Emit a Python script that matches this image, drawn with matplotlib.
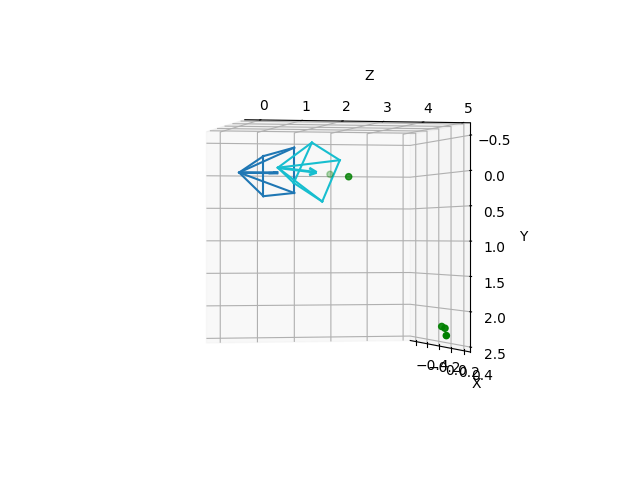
import numpy as np
import matplotlib
matplotlib.use('Agg')
import matplotlib.pyplot as plt

apex_a = [0.0, 0.0, 0.0]
corners_a = [[0.35, -0.32, 1.0], [-0.35, -0.29, 1.0], [-0.35, 0.32, 1.0], [0.35, 0.32, 1.0]]
tip_a = [0.0, 0.0, 1.0]
apex_b = [0.0, -0.075, 0.99]
corners_b = [[-0.1, -0.465, 1.99], [0.3, -0.155, 2.2], [0.1, 0.425, 2.01], [-0.3, 0.12, 1.75]]
tip_b = [0.0, -0.01, 1.99]
pts_x = [-0.3, 0.1, 0.3, 0.26, 0.34]
pts_y = [-0.015, 0.06, 2.26, 2.24, 2.36]
pts_z = [2.72, 2.69, 4.88, 4.86, 4.85]
xlim = (-0.5, 0.5)
ylim = (-0.675, 2.57)
zlim = (-0.37, 5.2)
xticks = [-0.4, -0.2, 0.0, 0.2, 0.4]
yticks = [-0.5, 0.0, 0.5, 1.0, 1.5, 2.0, 2.5]

fig = plt.figure(figsize=(6.4, 4.8), dpi=100)
ax = fig.add_subplot(projection='3d')
def cam(apex, corners, tip, c):
    for p in corners:
        ax.plot(*zip(apex, p), color=c)
    for i in range(4):
        ax.plot(*zip(corners[i], corners[(i + 1) % 4]), color=c)
    d = np.subtract(tip, apex)
    ax.quiver(*apex, *d, color=c, linewidth=2, arrow_length_ratio=0.2)
cam(apex_a, corners_a, tip_a, '#1f77b4')
cam(apex_b, corners_b, tip_b, '#17becf')
ax.scatter(pts_x, pts_y, pts_z, color='g')
ax.set_xlim(xlim); ax.set_ylim(ylim); ax.set_zlim(zlim)
ax.set_xlabel('X'); ax.set_ylabel('Y'); ax.set_zlabel('Z')
ax.set_xticks(xticks)
ax.set_yticks(yticks)
ax.set_box_aspect((1, 1, 1))
ax.view_init(elev=-13, azim=0, roll=-90)
fig.savefig('out.png', dpi=100)
